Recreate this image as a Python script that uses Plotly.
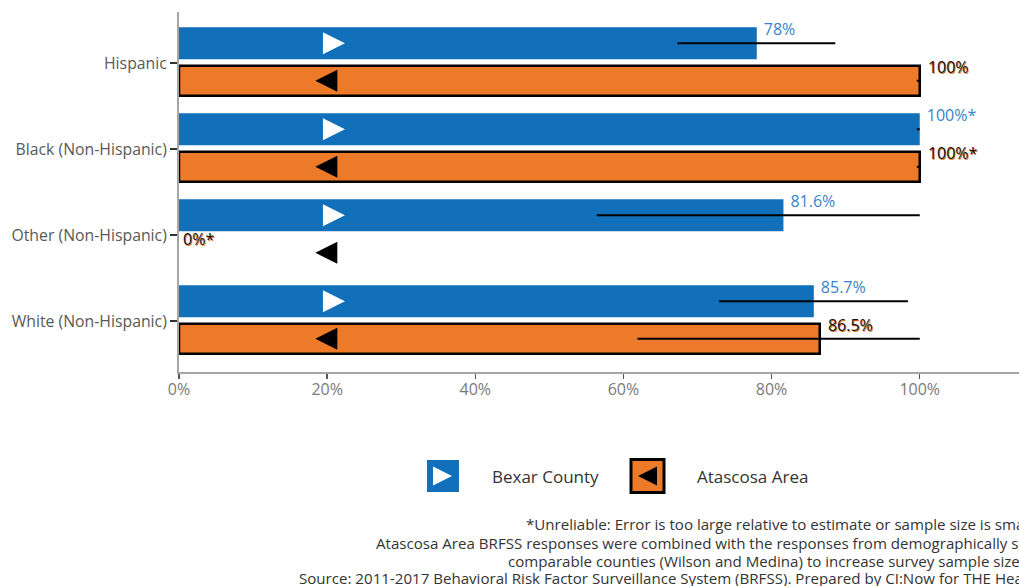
import plotly.graph_objects as go

# ---------------- data ----------------
categories = ["Hispanic", "Black (Non-Hispanic)", "Other (Non-Hispanic)", "White (Non-Hispanic)"]

bexar_values = [78.0, 100.0, 81.6, 85.7]
bexar_ci_low = [67.3, 99.6, 56.4, 72.9]
bexar_ci_high = [88.6, 100.0, 100.0, 98.4]
bexar_labels = ["78%", "100%*", "81.6%", "85.7%"]

atascosa_values = [100.0, 100.0, 0.0, 86.5]
atascosa_ci_low = [99.6, 99.6, 0.0, 61.9]
atascosa_ci_high = [100.0, 100.0, 0.0, 100.0]
atascosa_labels = ["100%", "100%*", "0%*", "86.5%"]

x_tick_vals = [0, 20, 40, 60, 80, 100]
x_tick_text = ["0%", "20%", "40%", "60%", "80%", "100%"]

series_names = ["Bexar County", "Atascosa Area"]

footer_lines = [
    "*Unreliable: Error is too large relative to estimate or sample size is small.",
    "Atascosa Area BRFSS responses were combined with the responses from demographically similar and",
    "comparable counties (Wilson and Medina) to increase survey sample size.",
    "Source: 2011-2017 Behavioral Risk Factor Surveillance System (BRFSS). Prepared by CI:Now for THE Health Collaborative.",
]

# ---------------- style ----------------
BLUE = "#1170B9"
BLUE_TEXT = "#3584CB"
ORANGE = "#EC7A29"
AXIS = "#A6A6A6"
FONT = "Open Sans"
ICON_X_BEXAR = 22.4
ICON_X_ATAS = 18.4
LABEL_PAD_BEXAR = 0.95
LABEL_PAD_ATAS = 1.1

# bar geometry (category units)
BEXAR_WIDTH, BEXAR_OFFSET = 0.372, -0.415
ATAS_WIDTH, ATAS_OFFSET = 0.35, 0.032

W, H = 1019, 586
ML, MR, MT, MB = 179, 0, 12, 60
PH = H - MT - MB
AXIS_BOTTOM_PX = 372


def yfrac(py):
    return (H - MB - py) / PH


pos = list(range(len(categories)))
bexar_center = BEXAR_OFFSET + BEXAR_WIDTH / 2
atas_center = ATAS_OFFSET + ATAS_WIDTH / 2

fig = go.Figure()

fig.add_trace(go.Bar(
    orientation="h", x=bexar_values, y=pos, name=series_names[0],
    width=BEXAR_WIDTH, offset=BEXAR_OFFSET,
    marker=dict(color=BLUE, line=dict(width=0)),
    error_x=dict(type="data", symmetric=False,
                 array=[h - v for h, v in zip(bexar_ci_high, bexar_values)],
                 arrayminus=[v - l for v, l in zip(bexar_values, bexar_ci_low)],
                 color="black", thickness=2, width=0),
    hoverinfo="skip", showlegend=False,
))
fig.add_trace(go.Bar(
    orientation="h", x=atascosa_values, y=pos, name=series_names[1],
    width=ATAS_WIDTH, offset=ATAS_OFFSET,
    marker=dict(color=ORANGE,
                line=dict(color="black", width=[2.5 if v > 0 else 0 for v in atascosa_values])),
    error_x=dict(type="data", symmetric=False,
                 array=[h - v for h, v in zip(atascosa_ci_high, atascosa_values)],
                 arrayminus=[v - l for v, l in zip(atascosa_values, atascosa_ci_low)],
                 color="black", thickness=2, width=0),
    hoverinfo="skip", showlegend=False,
))

# icons on the bars
fig.add_trace(go.Scatter(
    x=[ICON_X_BEXAR] * len(pos), y=[p + bexar_center for p in pos], mode="markers",
    marker=dict(symbol="arrow-right", size=22, color="white", line=dict(width=0)),
    hoverinfo="skip", showlegend=False,
))
fig.add_trace(go.Scatter(
    x=[ICON_X_ATAS] * len(pos), y=[p + atas_center for p in pos], mode="markers",
    marker=dict(symbol="arrow-left", size=22, color="black", line=dict(width=0)),
    hoverinfo="skip", showlegend=False,
))

# value labels
fig.add_trace(go.Scatter(
    x=[v + LABEL_PAD_BEXAR for v in bexar_values], y=[p - 0.37 for p in pos],
    mode="text", text=bexar_labels, textposition="middle right",
    textfont=dict(family=FONT, size=16, color=BLUE_TEXT),
    cliponaxis=False, hoverinfo="skip", showlegend=False,
))
fig.add_trace(go.Scatter(
    x=[v + LABEL_PAD_ATAS * (1 if v > 0 else 0.5) for v in atascosa_values],
    y=[p + 0.07 for p in pos],
    mode="text", text=atascosa_labels, textposition="middle right",
    textfont=dict(family=FONT, size=16, color="#111111", weight=500,
                  shadow="1px 1px 0px " + ORANGE),
    cliponaxis=False, hoverinfo="skip", showlegend=False,
))

# custom legend (pixel-unit helper axes)
fig.add_trace(go.Scatter(
    x=[443], y=[0.5], mode="markers", xaxis="x2", yaxis="y2",
    marker=dict(symbol="square", size=32, color=BLUE, line=dict(width=0)),
    hoverinfo="skip", showlegend=False,
))
fig.add_trace(go.Scatter(
    x=[452], y=[0.5], mode="markers", xaxis="x2", yaxis="y2",
    marker=dict(symbol="arrow-right", size=19, color="white", line=dict(width=0)),
    hoverinfo="skip", showlegend=False,
))
fig.add_trace(go.Scatter(
    x=[647.5], y=[0.5], mode="markers", xaxis="x2", yaxis="y2",
    marker=dict(symbol="square", size=33, color=ORANGE, line=dict(width=3, color="black")),
    hoverinfo="skip", showlegend=False,
))
fig.add_trace(go.Scatter(
    x=[638], y=[0.5], mode="markers", xaxis="x2", yaxis="y2",
    marker=dict(symbol="arrow-left", size=19, color="black", line=dict(width=0)),
    hoverinfo="skip", showlegend=False,
))

annotations = [
    dict(x=490, y=0.5, xref="x2", yref="y2", text=series_names[0], showarrow=False,
         xanchor="left", yanchor="middle", font=dict(family=FONT, size=17, color="#333333")),
    dict(x=695, y=0.5, xref="x2", yref="y2", text=series_names[1], showarrow=False,
         xanchor="left", yanchor="middle", font=dict(family=FONT, size=17, color="#333333")),
]
footer_x = [524, 374, 506, 297]
footer_y = [524, 543, 561, 578]
for txt, fx, fy in zip(footer_lines, footer_x, footer_y):
    annotations.append(dict(
        x=fx, y=yfrac(fy), xref="x2", yref="paper", text=txt, showarrow=False,
        xanchor="left", yanchor="middle", font=dict(family=FONT, size=15.1, color="#333333")))

fig.update_layout(
    width=W, height=H,
    margin=dict(l=ML, r=MR, t=MT, b=MB, pad=0),
    paper_bgcolor="white", plot_bgcolor="white",
    barmode="overlay",
    font=dict(family=FONT),
    showlegend=False,
    xaxis=dict(range=[0, 113.4], tickvals=x_tick_vals, ticktext=x_tick_text,
               showgrid=False, zeroline=False, showline=True, linecolor=AXIS, linewidth=2,
               ticks="outside", ticklen=5, tickcolor="#555555", tickwidth=1.5,
               ticklabelstandoff=-3,
               tickfont=dict(family=FONT, size=16, color="#7a7a7a"), anchor="y",
               fixedrange=True),
    yaxis=dict(domain=[yfrac(AXIS_BOTTOM_PX), 1], range=[3.593, -0.593],
               tickvals=pos, ticktext=categories,
               showgrid=False, zeroline=False, showline=True, linecolor=AXIS, linewidth=2,
               ticks="outside", ticklen=7, tickcolor="#333333", tickwidth=2,
               tickfont=dict(family=FONT, size=15.8, color="#595959"), anchor="x",
               fixedrange=True),
    xaxis2=dict(domain=[0, 1], range=[ML, W - MR], visible=False, anchor="y2", fixedrange=True),
    yaxis2=dict(domain=[yfrac(497), yfrac(455)], range=[0, 1], visible=False, anchor="x2",
                fixedrange=True),
    annotations=annotations,
)

fig.write_html(
    "out.html",
    config={"displayModeBar": False, "staticPlot": True},
    post_script="document.body.style.margin='0';document.body.style.overflow='hidden';",
)
